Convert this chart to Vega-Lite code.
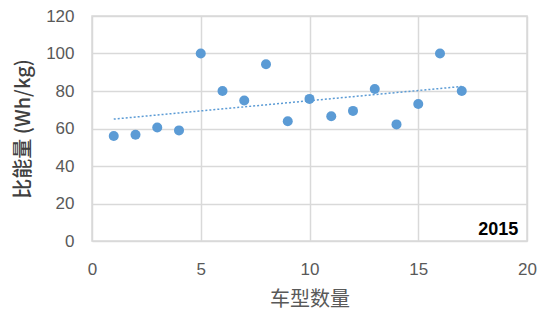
{
  "$schema": "https://vega.github.io/schema/vega-lite/v6.json",
  "width": 435,
  "height": 225,
  "autosize": {"type": "none"},
  "padding": {"left": 92, "top": 16, "right": 23, "bottom": 87},
  "background": "white",
  "config": {
    "view": {"stroke": "#d9d9d9", "strokeWidth": 1.5},
    "axis": {
      "labelFont": "Liberation Sans",
      "labelFontSize": 17,
      "labelColor": "#595959",
      "labelOverlap": false,
      "labelFlush": false,
      "titleFont": "Noto Sans CJK SC",
      "titleFontSize": 20,
      "titleColor": "#595959",
      "titleFontWeight": "normal",
      "gridColor": "#d9d9d9",
      "gridWidth": 1.5,
      "domain": false,
      "ticks": false
    }
  },
  "data": {
    "values": [
      {"n": 1, "e": 56.0},
      {"n": 2, "e": 56.7},
      {"n": 3, "e": 60.5},
      {"n": 4, "e": 59.0},
      {"n": 5, "e": 100.0},
      {"n": 6, "e": 80.0},
      {"n": 7, "e": 74.9},
      {"n": 8, "e": 94.3},
      {"n": 9, "e": 63.9},
      {"n": 10, "e": 75.8},
      {"n": 11, "e": 66.5},
      {"n": 12, "e": 69.4},
      {"n": 13, "e": 81.1},
      {"n": 14, "e": 62.2},
      {"n": 15, "e": 73.1},
      {"n": 16, "e": 100.0},
      {"n": 17, "e": 80.0}
    ]
  },
  "encoding": {
    "x": {"field": "n", "type": "quantitative", "scale": {"domain": [0, 20], "nice": false}, "axis": {"values": [0, 5, 10, 15, 20], "title": "车型数量", "labelPadding": 20, "titlePadding": 12}},
    "y": {"field": "e", "type": "quantitative", "scale": {"domain": [0, 120], "nice": false}, "axis": {"values": [0, 20, 40, 60, 80, 100, 120], "title": "比能量 (Wh/kg)", "labelPadding": 18, "titlePadding": 12, "titleFontWeight": 500, "titleColor": "#404040"}}
  },
  "layer": [
    {
      "mark": {"type": "point", "filled": true, "size": 100, "color": "#5b9bd5", "opacity": 1}
    },
    {
      "transform": [{"regression": "e", "on": "n", "extent": [1, 17]}],
      "mark": {"type": "line", "color": "#5b9bd5", "strokeDash": [2, 2], "strokeWidth": 1.5}
    },
    {
      "data": {"values": [{"n": 19.6, "e": 0, "label": "2015"}]},
      "mark": {"type": "text", "align": "right", "baseline": "bottom", "dy": -2, "font": "Liberation Sans", "fontSize": 18, "fontWeight": "bold", "color": "black"},
      "encoding": {
        "text": {"field": "label"}
      }
    }
  ]
}
